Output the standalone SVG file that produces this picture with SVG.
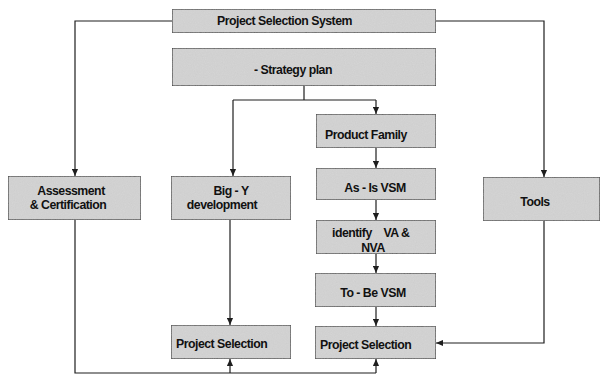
<svg xmlns="http://www.w3.org/2000/svg" width="602" height="377" viewBox="0 0 602 377">
  <style>
    .box { fill: #d6d6d6; stroke: #1e1e1e; stroke-width: 1.2; }
    .lbl { font-family: "Liberation Sans", Arial, sans-serif; font-size: 12.3px; font-weight: bold; letter-spacing: -0.5px; fill: #111; }
    .mid { text-anchor: middle; }
    .wire { fill: none; stroke: #1e1e1e; stroke-width: 1.2; }
  </style>
  <defs>
    <marker id="arrow" viewBox="0 0 8 8" refX="8" refY="4" markerWidth="7" markerHeight="7" markerUnits="userSpaceOnUse" orient="auto">
      <path d="M0,0.5 L8,4 L0,7.5 Z" fill="#1e1e1e"/>
    </marker>
    <filter id="grain" x="0" y="0" width="100%" height="100%">
      <feTurbulence type="fractalNoise" baseFrequency="0.9" numOctaves="2" seed="3" result="n"/>
      <feColorMatrix in="n" type="matrix" values="0 0 0 0 0.5  0 0 0 0 0.5  0 0 0 0 0.5  0 0 0 0.35 0" result="g"/>
      <feComposite in="g" in2="SourceGraphic" operator="in" result="gm"/>
      <feMerge><feMergeNode in="SourceGraphic"/><feMergeNode in="gm"/></feMerge>
    </filter>
  </defs>

  <g id="connectors">
    <!-- top system box to side columns -->
    <path class="wire" d="M172,21 H75 V176" marker-end="url(#arrow)"/>
    <path class="wire" d="M436,21 H544 V177" marker-end="url(#arrow)"/>
    <!-- strategy plan fan-out -->
    <path class="wire" d="M304,86 V100"/>
    <path class="wire" d="M233,100 H376"/>
    <path class="wire" d="M233,100 V176" marker-end="url(#arrow)"/>
    <path class="wire" d="M376,100 V114" marker-end="url(#arrow)"/>
    <!-- value stream chain -->
    <path class="wire" d="M376,148 V168" marker-end="url(#arrow)"/>
    <path class="wire" d="M376,200 V220" marker-end="url(#arrow)"/>
    <path class="wire" d="M376,254 V273" marker-end="url(#arrow)"/>
    <path class="wire" d="M376,307 V326" marker-end="url(#arrow)"/>
    <!-- big-Y to project selection -->
    <path class="wire" d="M230,220 V325" marker-end="url(#arrow)"/>
    <!-- tools to project selection -->
    <path class="wire" d="M544,221 V343 H436" marker-end="url(#arrow)"/>
    <!-- assessment feed along the bottom -->
    <path class="wire" d="M75,220 V373 H376"/>
    <path class="wire" d="M230,373 V359" marker-end="url(#arrow)"/>
    <path class="wire" d="M376,373 V359" marker-end="url(#arrow)"/>
  </g>

  <g id="project-selection-system">
    <rect class="box" filter="url(#grain)" x="172" y="9" width="264" height="24"/>
    <text class="lbl" x="217" y="25">Project Selection System</text>
  </g>

  <g id="strategy-plan">
    <rect class="box" filter="url(#grain)" x="172" y="48" width="264" height="38"/>
    <text class="lbl" x="254" y="74">- Strategy plan</text>
  </g>

  <g id="assessment">
    <rect class="box" filter="url(#grain)" x="8" y="176" width="133" height="44"/>
    <text class="lbl mid" x="71" y="195">Assessment</text>
    <text class="lbl mid" x="68" y="209">&amp; Certification</text>
  </g>

  <g id="big-y">
    <rect class="box" filter="url(#grain)" x="171" y="176" width="120" height="44"/>
    <text class="lbl mid" x="231" y="195">Big - Y</text>
    <text class="lbl mid" x="222" y="209">development</text>
  </g>

  <g id="product-family">
    <rect class="box" filter="url(#grain)" x="316" y="114" width="120" height="34"/>
    <text class="lbl" x="325" y="139">Product Family</text>
  </g>

  <g id="as-is-vsm">
    <rect class="box" filter="url(#grain)" x="316" y="168" width="120" height="32"/>
    <text class="lbl mid" x="375" y="192">As - Is VSM</text>
  </g>

  <g id="identify-va-nva">
    <rect class="box" filter="url(#grain)" x="316" y="220" width="120" height="34"/>
    <text class="lbl" x="332" y="237" xml:space="preserve">identify    VA &amp;</text>
    <text class="lbl mid" x="373" y="252">NVA</text>
  </g>

  <g id="to-be-vsm">
    <rect class="box" filter="url(#grain)" x="315" y="273" width="121" height="34"/>
    <text class="lbl mid" x="373" y="297">To - Be VSM</text>
  </g>

  <g id="tools">
    <rect class="box" filter="url(#grain)" x="483" y="177" width="117" height="44"/>
    <text class="lbl mid" x="535" y="206">Tools</text>
  </g>

  <g id="project-selection-left">
    <rect class="box" filter="url(#grain)" x="171" y="325" width="120" height="34"/>
    <text class="lbl" x="176" y="348">Project Selection</text>
  </g>

  <g id="project-selection-right">
    <rect class="box" filter="url(#grain)" x="315" y="326" width="121" height="33"/>
    <text class="lbl" x="320" y="349">Project Selection</text>
  </g>
</svg>
